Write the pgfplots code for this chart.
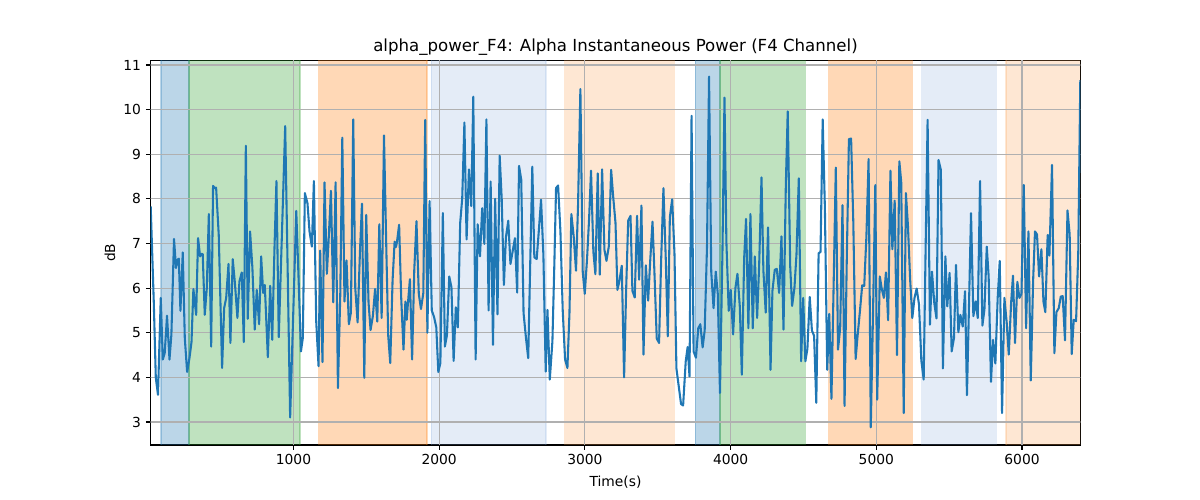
\documentclass[border=0pt]{standalone}
\usepackage{pgfplots}
\pgfplotsset{compat=1.18}
\usepackage{pgfplotstable}
\usepackage{fontspec}
\setmainfont{DejaVu Sans}
\definecolor{tabblue}{HTML}{1F77B4}
\definecolor{tabgreen}{HTML}{2CA02C}
\definecolor{taborange}{HTML}{FF7F0E}
\definecolor{lblue}{RGB}{120,160,215}
\definecolor{lorange}{RGB}{250,160,80}
\pgfplotstableread{
x y
20 7.83
41 5.7
55 3.99
70 3.61
89 5.78
103 4.40
116 4.54
132 5.38
149 4.40
162 4.96
180 7.10
194 6.45
203 6.63
213 6.66
224 5.49
240 6.80
254 4.88
270 4.12
286 4.43
300 4.79
313 5.98
332 5.40
345 7.12
359 6.71
368 6.77
377 6.76
391 5.40
405 6.00
419 7.66
435 4.69
448 8.29
460 8.24
469 8.25
487 7.19
510 4.21
524 5.55
538 5.78
554 6.54
567 4.77
583 6.65
599 6.07
615 5.33
629 6.15
645 6.35
659 4.79
673 9.19
686 5.31
702 7.27
718 6.45
734 5.07
748 5.96
764 5.19
778 6.71
792 5.89
803 6.07
824 4.45
840 6.05
854 4.84
870 6.95
883 8.40
899 4.90
913 6.4
928 8.0
943 9.63
960 6.4
977 3.10
998 5.4
1019 7.73
1035 6.2
1051 4.58
1064 4.88
1078 8.13
1096 7.90
1110 7.27
1126 6.93
1140 8.40
1156 5.25
1172 4.25
1183 6.84
1199 4.34
1213 8.37
1229 6.32
1243 7.2
1257 8.18
1273 5.68
1289 8.37
1305 3.76
1321 5.85
1335 9.37
1350 5.70
1364 6.62
1380 5.19
1394 5.45
1410 9.78
1424 6.0
1440 5.23
1456 6.8
1470 7.89
1486 3.99
1499 7.64
1515 5.68
1529 5.06
1545 5.38
1560 5.98
1575 5.25
1589 7.43
1605 5.33
1621 9.42
1636 7.05
1650 4.94
1664 4.32
1680 6.17
1694 7.04
1703 6.92
1710 7.03
1725 7.42
1739 5.80
1755 4.62
1768 5.7
1777 5.29
1786 5.68
1799 6.20
1814 4.40
1829 6.41
1844 7.5
1860 5.87
1875 5.53
1891 5.89
1904 9.77
1919 5.0
1934 7.95
1949 5.5
1965 5.35
1980 5.12
1994 4.12
2008 4.32
2025 7.68
2039 4.69
2053 4.94
2069 6.26
2084 6.02
2099 4.37
2114 5.57
2128 5.12
2144 7.46
2158 8.01
2173 9.71
2188 7.09
2204 8.66
2220 7.84
2234 10.29
2250 4.40
2264 7.43
2280 6.71
2295 7.79
2310 6.99
2324 9.78
2339 5.5
2353 8.39
2369 4.73
2384 8.0
2400 5.41
2415 8.97
2429 8.0
2444 6.07
2458 7.14
2474 7.51
2489 6.54
2505 6.84
2520 7.12
2535 5.9
2548 8.74
2563 8.43
2579 5.44
2595 4.9
2611 4.43
2625 6.6
2639 8.72
2653 6.69
2669 6.65
2685 7.34
2699 7.98
2715 6.75
2731 4.13
2743 5.51
2759 3.95
2777 4.81
2790 6.5
2802 8.24
2816 8.30
2832 7.27
2848 5.48
2864 4.40
2880 4.21
2894 5.44
2907 7.66
2923 7.16
2939 6.39
2953 7.87
2969 10.46
2985 6.37
2999 5.87
3015 6.67
3029 7.57
3042 8.63
3058 6.82
3072 6.31
3088 8.57
3102 6.30
3118 8.66
3134 6.86
3148 6.61
3164 6.93
3180 8.65
3194 8.05
3210 7.46
3223 5.96
3237 6.16
3253 6.50
3269 4.00
3283 5.96
3297 7.51
3313 7.62
3326 5.94
3342 5.79
3358 7.62
3372 6.19
3388 7.85
3402 4.51
3418 6.51
3434 5.72
3448 6.60
3464 7.49
3477 6.37
3493 4.87
3509 4.77
3523 6.60
3539 8.24
3555 6.65
3569 4.92
3583 7.59
3599 7.99
3615 6.75
3628 4.20
3644 3.80
3660 3.40
3674 3.37
3692 4.36
3705 4.68
3718 4.02
3732 9.86
3746 4.58
3762 4.44
3778 5.1
3792 5.19
3808 4.67
3822 5.05
3838 6.93
3852 10.74
3867 6.37
3883 5.55
3898 6.37
3912 5.87
3927 3.65
3944 6.82
3958 10.27
3971 7.04
3987 5.49
4001 5.96
4017 4.96
4033 6.0
4047 6.32
4063 5.59
4077 4.06
4093 6.67
4106 7.55
4122 5.10
4136 7.66
4152 5.10
4166 6.71
4182 5.33
4196 6.52
4212 8.48
4225 6.39
4241 5.45
4257 7.36
4274 4.17
4287 5.94
4303 6.41
4317 6.43
4333 5.89
4349 7.16
4363 5.07
4379 8.31
4392 9.96
4409 6.49
4422 5.60
4438 6.0
4452 6.75
4468 8.46
4484 4.36
4498 5.78
4513 4.36
4527 4.64
4543 5.80
4558 5.05
4573 4.93
4588 3.43
4604 6.78
4617 6.81
4632 9.78
4647 7.8
4663 4.17
4677 5.42
4692 3.52
4707 6.06
4722 8.70
4737 4.62
4752 5.10
4768 7.86
4782 3.36
4797 6.58
4812 9.34
4827 9.35
4842 7.49
4858 4.41
4872 4.95
4888 5.5
4903 6.06
4917 6.05
4932 7.16
4947 8.89
4962 2.88
4977 5.37
4993 8.31
5006 3.50
5024 6.26
5037 5.99
5052 5.78
5066 6.35
5081 5.28
5097 8.63
5110 6.87
5126 7.96
5142 4.50
5158 8.84
5171 8.37
5188 3.20
5203 8.13
5217 7.4
5232 6.2
5247 5.33
5262 5.78
5277 5.99
5293 5.63
5309 4.38
5325 3.95
5338 6.8
5352 9.77
5368 5.18
5382 6.37
5398 5.66
5413 5.32
5427 8.87
5443 8.65
5457 4.2
5474 6.71
5487 5.59
5503 6.34
5517 4.58
5533 4.88
5547 6.52
5563 5.01
5577 5.40
5593 5.14
5609 5.93
5622 3.60
5636 5.6
5650 7.68
5666 5.37
5682 5.70
5696 5.33
5712 8.40
5728 5.16
5742 5.52
5758 6.93
5771 6.26
5787 3.90
5801 4.84
5817 4.31
5833 5.78
5847 6.61
5863 3.20
5879 5.78
5895 5.22
5909 4.51
5925 5.66
5938 6.28
5952 4.77
5968 6.14
5982 5.78
5996 5.87
6012 8.31
6028 5.10
6044 7.27
6060 3.93
6076 6.15
6089 7.27
6103 7.20
6117 6.26
6133 6.87
6147 5.70
6160 5.46
6176 7.19
6188 6.73
6206 8.76
6222 4.54
6236 5.46
6252 5.55
6266 5.81
6279 5.82
6295 4.83
6312 7.74
6327 7.20
6341 4.52
6355 5.29
6371 5.26
6386 6.8
6400 10.66
}\powerdata
\begin{document}
\begin{tikzpicture}
\useasboundingbox (0,0) rectangle (12in,5in);
\begin{axis}[
  at={(1.507in,0.55in)}, anchor=south west,
  width=9.296in, height=3.843in, scale only axis,
  xmin=20, xmax=6400, ymin=2.484, ymax=11.096,
  xtick={1000,2000,3000,4000,5000,6000},
  ytick={3,4,5,6,7,8,9,10,11},
  /pgf/number format/1000 sep={},
  /pgf/number format/assume math mode=true,
  ticklabel style={font=\fontsize{10}{12}\selectfont},
  tick align=outside, major tick length=3.5pt,
  tick style={black, line width=0.8pt},
  xtick pos=bottom, ytick pos=left,
  axis line style={black, line width=0.8pt},
  title={alpha\_power\_F4: Alpha Instantaneous Power (F4 Channel)},
  title style={font=\fontsize{12}{14}\selectfont, yshift=-6pt},
  xlabel={Time(s)}, ylabel={dB},
  label style={font=\fontsize{10}{12}\selectfont},
  xlabel style={yshift=-1pt},
  ylabel style={yshift=-1pt},
]
% shaded spans: each span drawn as a filled rectangle through the axis
\addplot[fill=tabblue, fill opacity=0.3, draw=tabblue, draw opacity=0.3, line width=1pt] coordinates {(91,0) (91,12) (284,12) (284,0)};
\addplot[fill=tabgreen, fill opacity=0.3, draw=tabgreen, draw opacity=0.3, line width=1pt] coordinates {(284,0) (284,12) (1044,12) (1044,0)};
\addplot[fill=taborange, fill opacity=0.3, draw=taborange, draw opacity=0.3, line width=1pt] coordinates {(1172,0) (1172,12) (1916,12) (1916,0)};
\addplot[fill=lblue, fill opacity=0.2, draw=lblue, draw opacity=0.2, line width=1pt] coordinates {(1946,0) (1946,12) (2734,12) (2734,0)};
\addplot[fill=lorange, fill opacity=0.25, draw=lorange, draw opacity=0.25, line width=1pt] coordinates {(2861,0) (2861,12) (3613,12) (3613,0)};
\addplot[fill=tabblue, fill opacity=0.3, draw=tabblue, draw opacity=0.3, line width=1pt] coordinates {(3759,0) (3759,12) (3926,12) (3926,0)};
\addplot[fill=tabgreen, fill opacity=0.3, draw=tabgreen, draw opacity=0.3, line width=1pt] coordinates {(3926,0) (3926,12) (4512,12) (4512,0)};
\addplot[fill=taborange, fill opacity=0.3, draw=taborange, draw opacity=0.3, line width=1pt] coordinates {(4672,0) (4672,12) (5247,12) (5247,0)};
\addplot[fill=lblue, fill opacity=0.2, draw=lblue, draw opacity=0.2, line width=1pt] coordinates {(5311,0) (5311,12) (5824,12) (5824,0)};
\addplot[fill=lorange, fill opacity=0.25, draw=lorange, draw opacity=0.25, line width=1pt] coordinates {(5890,0) (5890,12) (6500,12) (6500,0)};
% grid drawn over the spans, under the signal
\pgfplotsinvokeforeach{1000,2000,3000,4000,5000,6000}{
  \addplot[color={rgb,255:red,176;green,176;blue,176}, line width=0.8pt, forget plot] coordinates {(#1,0) (#1,12)};
}
\pgfplotsinvokeforeach{3,4,5,6,7,8,9,10,11}{
  \addplot[color={rgb,255:red,176;green,176;blue,176}, line width=0.8pt, forget plot] coordinates {(0,#1) (6500,#1)};
}
\addplot[color=tabblue, line width=1.5pt, line join=round, mark=none] table[x=x,y=y] {\powerdata};
\end{axis}
\end{tikzpicture}
\end{document}
